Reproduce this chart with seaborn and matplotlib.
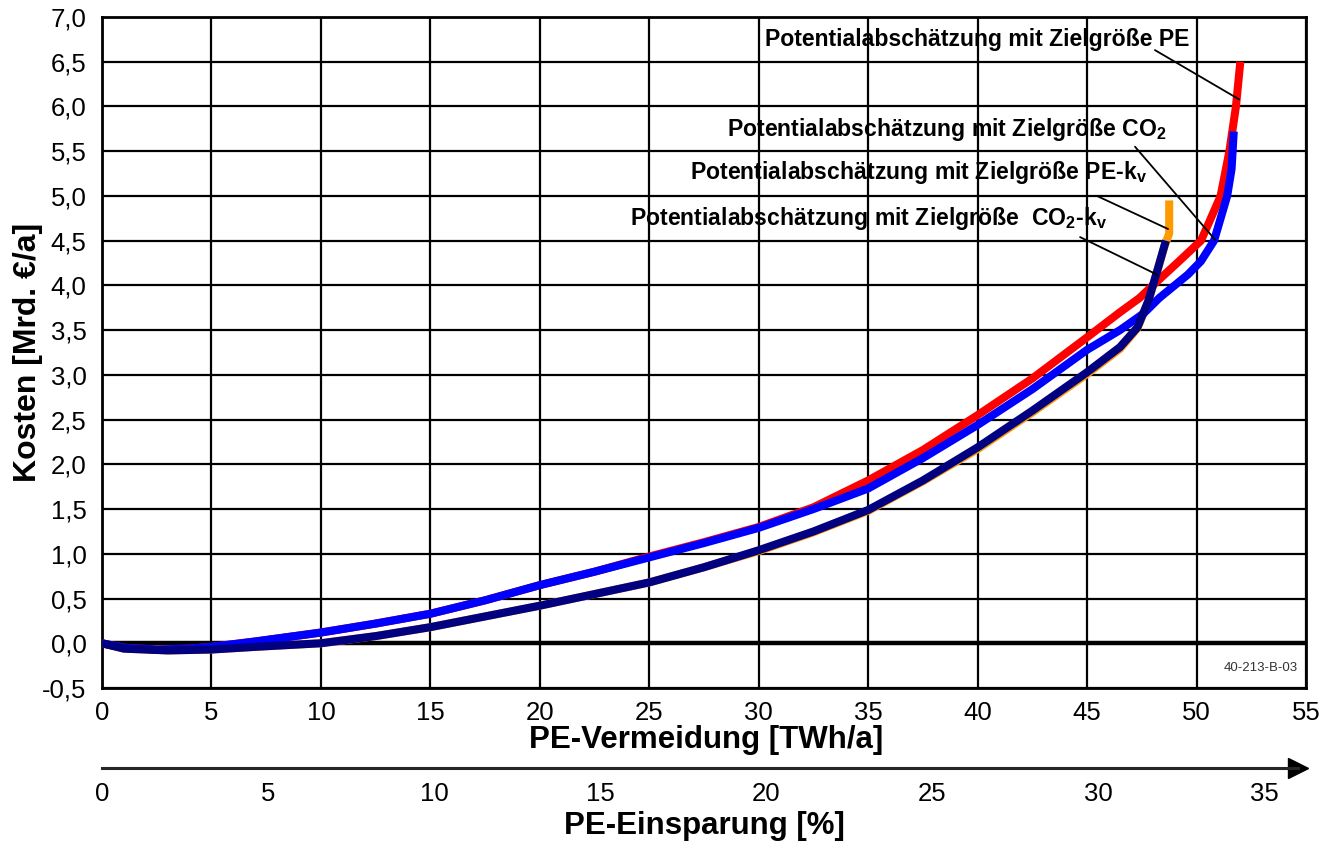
import numpy as np
import pandas as pd
import matplotlib
matplotlib.use("Agg")
import matplotlib.pyplot as plt
import seaborn as sns

# Kostenkurven (x: PE-Vermeidung in TWh/a, y: Kosten in Mrd. EUR/a)
pe_x = [0, 1, 2.5, 4, 5, 7, 10, 12.5, 15, 17.5, 20, 22.5, 25, 27.5, 30, 32.5, 35, 37.5, 40,
        42.5, 45, 46.5, 47.4, 48.0, 49.2, 50.2, 50.6, 51.1, 51.5, 51.8, 52.0]
pe_y = [0, -0.05, -0.07, -0.06, -0.04, 0.02, 0.12, 0.22, 0.33, 0.48, 0.65, 0.8, 0.97, 1.13, 1.3, 1.52,
        1.82, 2.16, 2.55, 2.96, 3.42, 3.7, 3.86, 4.0, 4.27, 4.5, 4.72, 5.0, 5.5, 6.0, 6.5]

co2_x = [0, 1, 2.5, 4, 5, 7, 10, 12.5, 15, 17.5, 20, 22.5, 25, 27.5, 30, 32.5, 35, 37.5, 40,
         42.5, 45, 46.5, 47.6, 48.3, 49.0, 49.6, 50.2, 50.8, 51.1, 51.4, 51.6, 51.7]
co2_y = [0, -0.05, -0.07, -0.06, -0.04, 0.02, 0.12, 0.22, 0.33, 0.48, 0.65, 0.8, 0.96, 1.12, 1.29, 1.5,
         1.73, 2.07, 2.44, 2.84, 3.28, 3.5, 3.69, 3.86, 4.0, 4.12, 4.27, 4.5, 4.75, 5.0, 5.3, 5.72]

pekv_x = [0, 1, 3, 5, 7, 10, 12.5, 15, 17.5, 20, 22.5, 25, 27.5, 30, 32.5, 35, 37.5, 40, 42.5,
          45, 46.5, 47.3, 47.8, 48.2, 48.55, 48.75, 48.75]
pekv_y = [0, -0.06, -0.08, -0.07, -0.04, 0.0, 0.08, 0.18, 0.3, 0.42, 0.55, 0.68, 0.85, 1.03, 1.24,
          1.48, 1.81, 2.17, 2.58, 3.01, 3.29, 3.52, 3.82, 4.15, 4.45, 4.58, 4.95]

co2kv_x = [0, 1, 3, 5, 7, 10, 12.5, 15, 17.5, 20, 22.5, 25, 27.5, 30, 32.5, 35, 37.5, 40, 42.5,
           45, 46.5, 47.3, 47.8, 48.2, 48.6]
co2kv_y = [0, -0.06, -0.08, -0.07, -0.04, 0.0, 0.08, 0.18, 0.3, 0.42, 0.55, 0.68, 0.85, 1.04, 1.25,
           1.49, 1.82, 2.19, 2.6, 3.03, 3.31, 3.53, 3.83, 4.16, 4.5]

x_ticks = list(range(0, 60, 5))
y_ticks = [-0.5, 0.0, 0.5, 1.0, 1.5, 2.0, 2.5, 3.0, 3.5, 4.0, 4.5, 5.0, 5.5, 6.0, 6.5, 7.0]
y_tick_labels = ["-0,5", "0,0", "0,5", "1,0", "1,5", "2,0", "2,5", "3,0", "3,5", "4,0",
                 "4,5", "5,0", "5,5", "6,0", "6,5", "7,0"]
pct_ticks = [0, 5, 10, 15, 20, 25, 30, 35]

# Beschriftungen der Kurven: (Text, Textposition, Ende der Hinweislinie, Anfang der Hinweislinie)
labels = [
    ("Potentialabschätzung mit Zielgröße PE", (30.3, 6.745), (51.94, 6.08), (48.1, 6.63)),
    ("Potentialabschätzung mit Zielgröße CO$_\\mathbf{2}$", (28.55, 5.74), (50.85, 4.51), (47.19, 5.55)),
    ("Potentialabschätzung mit Zielgröße PE-k$_\\mathbf{v}$", (26.86, 5.26), (48.7, 4.63), (45.45, 5.0)),
    ("Potentialabschätzung mit Zielgröße  CO$_\\mathbf{2}$-k$_\\mathbf{v}$", (24.12, 4.75), (48.2, 4.12), (44.68, 4.54)),
]

sns.set_style("white")
plt.rcParams['font.family'] = ['Liberation Sans', 'DejaVu Sans']
plt.rcParams['mathtext.fontset'] = 'custom'
plt.rcParams['mathtext.rm'] = 'Liberation Sans'
plt.rcParams['mathtext.bf'] = 'Liberation Sans:bold'
plt.rcParams['text.color'] = 'black'
plt.rcParams['axes.labelcolor'] = 'black'
plt.rcParams['xtick.color'] = 'black'
plt.rcParams['ytick.color'] = 'black'

fig = plt.figure(figsize=(13.38, 8.43), dpi=100)
ax = fig.add_axes([102 / 1338, 1 - 688 / 843, 1204 / 1338, 671 / 843])

curves = [
    (pekv_x, pekv_y, "#FF9900"),
    (pe_x, pe_y, "#FF0000"),
    (co2_x, co2_y, "#0000FF"),
    (co2kv_x, co2kv_y, "#000080"),
]
for xs, ys, col in curves:
    df = pd.DataFrame({"x": xs, "y": ys})
    sns.lineplot(data=df, x="x", y="y", sort=False, estimator=None, color=col, lw=5.8,
                 solid_capstyle="butt", ax=ax, zorder=3)

ax.set_xlim(0, 55)
ax.set_ylim(-0.5, 7.0)
ax.set_xticks(x_ticks)
ax.set_yticks(y_ticks)
ax.set_yticklabels(y_tick_labels)
ax.grid(True, color="black", lw=1.6)
ax.axhline(0, color="black", lw=3.2, zorder=2)
for s in ax.spines.values():
    s.set_linewidth(2)
    s.set_color("black")
ax.tick_params(axis="x", length=3, width=1.5, pad=6, labelsize=18.5, direction="out")
ax.tick_params(axis="y", length=0, pad=11, labelsize=18.5)
ax.set_xlabel("")
ax.set_ylabel("")
fig.text(706 / 1338, 1 - 740 / 843, "PE-Vermeidung [TWh/a]", ha="center", va="center",
         fontsize=22.5, fontweight="bold")
fig.text(28 / 1338, 1 - 352 / 843, "Kosten [Mrd. €/a]", rotation=90, ha="center", va="center",
         fontsize=23, fontweight="bold")

for txt, pos, end, start in labels:
    ax.text(pos[0], pos[1], txt, ha="left", va="center", fontsize=16.6, fontweight="bold", zorder=5)
    ax.annotate("", xy=end, xytext=start,
                arrowprops=dict(arrowstyle="-", lw=1.3, color="black", shrinkA=0, shrinkB=0), zorder=5)

ax.text(54.63, -0.28, "40-213-B-03", ha="right", va="center", fontsize=9.5, color="#333333")

# zweite Achse: PE-Einsparung in %
ax2 = fig.add_axes([102 / 1338, 1 - 768 / 843, 1196 / 1338, 0.0001])
ax2.set_xlim(0, 1196 / 33.2)
ax2.set_ylim(0, 1)
ax2.set_yticks([])
for side in ["left", "right", "top"]:
    ax2.spines[side].set_visible(False)
ax2.spines["bottom"].set_linewidth(2.2)
ax2.set_xticks(pct_ticks)
ax2.tick_params(axis="x", direction="inout", length=10, width=2, labelsize=18.5, pad=5)
ax2.plot([1], [0], marker=">", ms=14, color="black", transform=ax2.transAxes, clip_on=False)
fig.text(704 / 1338, 1 - 826 / 843, "PE-Einsparung [%]", ha="center", va="center",
         fontsize=22.5, fontweight="bold")

fig.savefig("out.png", dpi=100)
